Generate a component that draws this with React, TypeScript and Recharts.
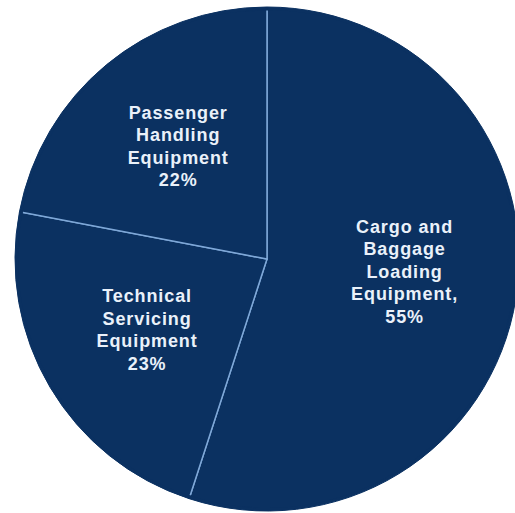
import { PieChart, Pie, Cell } from "recharts"

const segments = ["Cargo and Baggage Loading Equipment", "Technical Servicing Equipment", "Passenger Handling Equipment"]
const shares = [55, 23, 22]
const labelLines = [
  ["Cargo and", "Baggage", "Loading", "Equipment,", "55%"],
  ["Technical", "Servicing", "Equipment", "23%"],
  ["Passenger", "Handling", "Equipment", "22%"],
]

const data = segments.map((name, i) => ({ name, value: shares[i] }))

const NAVY = "#0b3161"
const RAD = Math.PI / 180
const LINE_H = 22.5
// small vertical nudges so the text blocks sit where the original had them
const nudge = [-9, 0, -5]

const renderLabel = (props: any) => {
  const { cx, cy, midAngle, outerRadius, index } = props
  const r = outerRadius * 0.555
  const x = cx + r * Math.cos(-midAngle * RAD)
  const y = cy + r * Math.sin(-midAngle * RAD) + nudge[index]
  const lines = labelLines[index]
  const top = y - ((lines.length - 1) * LINE_H) / 2
  return (
    <text
      x={x}
      y={top}
      fill="#eaf1fa"
      textAnchor="middle"
      dominantBaseline="central"
      fontFamily="'Liberation Sans', Arial, sans-serif"
      fontWeight="bold"
      fontSize={18}
      letterSpacing={0.9}
    >
      {lines.map((l, i) => (
        <tspan key={i} x={x} dy={i === 0 ? 0 : LINE_H}>
          {l}
        </tspan>
      ))}
    </text>
  )
}

export default function App() {
  return (
    <div style={{ position: "absolute", left: 0, top: 0, width: 515, height: 513, background: "#fff" }}>
      <PieChart width={515} height={513} margin={{ top: 0, right: 0, bottom: 0, left: 0 }}>
        <Pie
          data={data}
          dataKey="value"
          cx={267}
          cy={259}
          outerRadius={251}
          startAngle={90}
          endAngle={-270}
          stroke="#7fa8d8"
          strokeWidth={1.5}
          label={renderLabel}
          labelLine={false}
          isAnimationActive={false}
        >
          {data.map((d) => (
            <Cell key={d.name} fill={NAVY} />
          ))}
        </Pie>
        {/* rim ring hides the light stroke on the outer edge */}
        <Pie
          data={data}
          dataKey="value"
          cx={267}
          cy={259}
          innerRadius={249}
          outerRadius={252}
          startAngle={90}
          endAngle={-270}
          stroke={NAVY}
          strokeWidth={1}
          fill={NAVY}
          isAnimationActive={false}
        />
      </PieChart>
    </div>
  )
}
